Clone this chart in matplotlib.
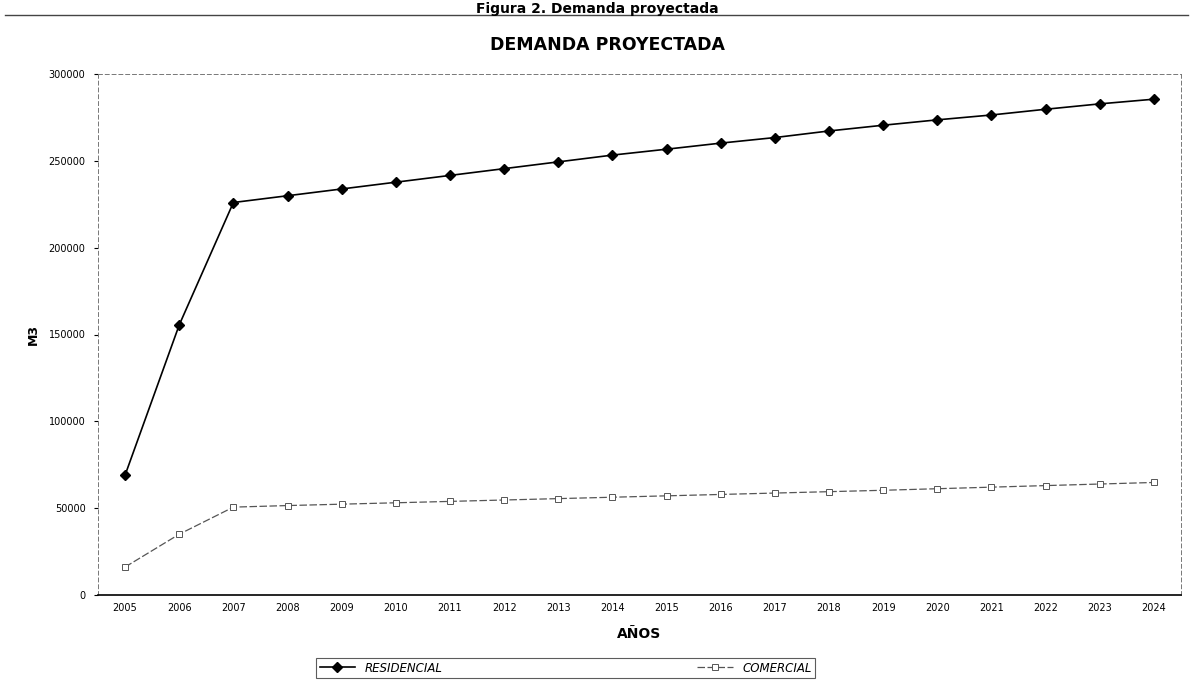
import matplotlib
matplotlib.use("Agg")
import matplotlib.pyplot as plt
from matplotlib.lines import Line2D

# Data
years = [str(y) for y in range(2005, 2025)]
residencial = [69000, 155500, 226000, 229900, 233800, 237700, 241600, 245500,
               249400, 253300, 256700, 260200, 263400, 267200, 270500, 273600,
               276400, 279700, 282800, 285500]
comercial = [16100, 35000, 50600, 51500, 52300, 53100, 53900, 54700, 55500,
             56300, 57100, 57900, 58700, 59500, 60300, 61200, 62100, 63000,
             63900, 64800]
y_ticks = [0, 50000, 100000, 150000, 200000, 250000, 300000]

W, H = 1192, 683
fig = plt.figure(figsize=(W / 100, H / 100), dpi=100)
fig.patch.set_facecolor("white")

ax = fig.add_axes([98 / W, 1 - 595 / H, (1181 - 98) / W, (595 - 74) / H])

x = list(range(len(years)))
ax.plot(x, residencial, color="black", linewidth=1.2, marker="D",
        markersize=5.5, label="RESIDENCIAL")
ax.plot(x, comercial, color="#555555", linewidth=0.9, linestyle=(0, (6, 2)),
        marker="s", markersize=4, markerfacecolor="white",
        markeredgecolor="#555555", markeredgewidth=0.7, label="COMERCIAL")

ax.set_xlim(-0.5, len(years) - 0.5)
ax.set_ylim(0, 300000)
ax.set_xticks(x)
ax.set_xticklabels(years, fontsize=7)
ax.set_yticks(y_ticks)
ax.set_yticklabels([str(v) for v in y_ticks], fontsize=7)
ax.tick_params(axis="x", length=0, pad=6)
ax.tick_params(axis="y", length=3, width=0.8, direction="out", pad=6)

for side in ["left", "top", "right"]:
    ax.spines[side].set_linestyle((0, (4, 3)))
    ax.spines[side].set_linewidth(0.7)
    ax.spines[side].set_color("#777777")
ax.spines["bottom"].set_linewidth(1.2)
ax.spines["bottom"].set_color("black")

ax.set_xlabel("AÑOS", fontsize=10, fontweight="bold", labelpad=10)
ax.set_ylabel("M3", fontsize=9, fontweight="bold", labelpad=6)

fig.text(607 / W, 1 - 45 / H, "DEMANDA PROYECTADA", fontsize=12.5,
         fontweight="bold", ha="center", va="center")

# Caption above the chart (cut in the scan, kept fully visible here)
fig.text(597 / W, 1 - 13 / H, "Figura 2. Demanda proyectada", fontsize=10,
         fontweight="bold", ha="center", va="baseline")
fig.add_artist(Line2D([5 / W, 1188 / W], [1 - 15 / H, 1 - 15 / H],
                      color="#444444", linewidth=1.0))

leg = fig.legend(loc="center left", bbox_to_anchor=(316 / W, 1 - 668 / H),
                 ncol=2, frameon=True, fontsize=8.5, columnspacing=21.6,
                 handlelength=3, borderpad=0.3, borderaxespad=0,
                 fancybox=False, edgecolor="#333333")
leg.get_frame().set_linewidth(0.8)
for t in leg.get_texts():
    t.set_fontstyle("italic")

fig.savefig("out.png", dpi=100)
